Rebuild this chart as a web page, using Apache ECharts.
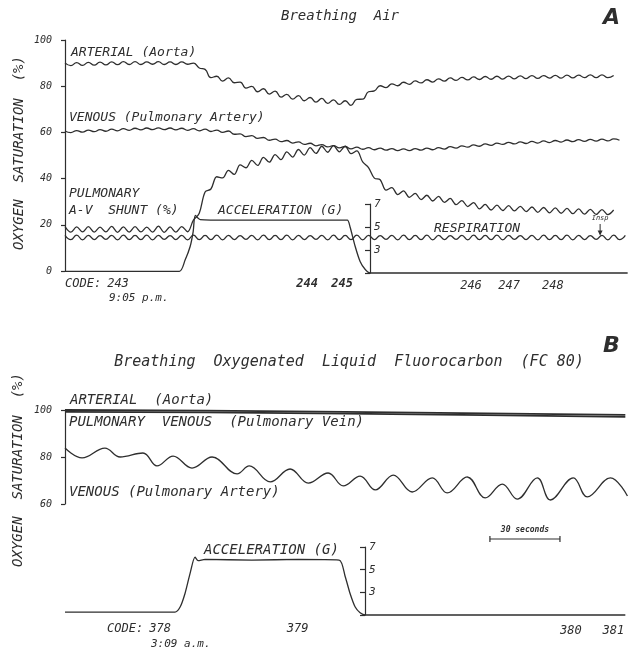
<!DOCTYPE html>
<html>
<head>
<meta charset="utf-8">
<script src="https://cdn.jsdelivr.net/npm/echarts@6/dist/echarts.min.js"></script>
<style>
  html, body { margin: 0; padding: 0; background: #fff; }
  #chart { width: 631px; height: 649px; }
</style>
</head>
<body>
<div id="chart"></div>
<script>
// ---- Panel A: breathing air (time in seconds from start of record) ----
const sampleSec = [
  0, 2.5, 5, 7.5, 10, 12.5, 15, 17.5, 20, 22.5,
  25, 27.5, 30, 32.5, 35, 37.5, 40, 42.5, 45, 47.5,
  50, 52.5, 55, 57.5, 60, 62.5, 65, 67.5, 70, 72.5,
  75, 77.5, 80, 82.5, 85, 87.5, 90, 92.5, 95, 97.5,
  100, 102.5, 105, 107.5, 110, 112.5, 115, 117.5, 120, 122.5,
  125, 127.5, 130, 132.5, 135, 137.5, 140, 142.5, 145, 147.5,
  150, 152.5, 155, 157.5, 160, 162.5, 165, 167.5, 170, 172.5,
  175, 177.5, 180, 182.5, 185, 187.5, 190, 192.5, 195, 197.5,
  200, 202.5, 205, 207.5, 210, 212.5, 215, 217.5, 220, 222.5,
  225, 227.5, 230, 232.5, 235, 237.5, 240
];

// Arterial (aorta) O2 saturation, %
const arterialA = [
  90.1, 88.9, 90.2, 89.0, 90.3, 89.1, 90.4, 89.2, 90.5, 89.3,
  90.6, 89.4, 90.6, 89.4, 90.5, 89.5, 90.6, 89.4, 90.5, 89.4,
  90.5, 89.5, 90.0, 87.9, 87.3, 83.7, 84.3, 82.2, 83.6, 81.5,
  81.8, 79.2, 79.9, 77.6, 78.9, 76.6, 77.9, 75.3, 76.5, 74.4,
  75.9, 73.7, 75.1, 73.1, 74.7, 72.6, 74.1, 72.1, 73.7, 71.7,
  74.3, 74.4, 77.6, 78.0, 80.2, 79.4, 81.0, 80.2, 81.7, 80.8,
  82.3, 81.4, 82.8, 81.8, 83.2, 82.2, 83.6, 82.5, 83.8, 82.7,
  84.0, 82.9, 84.2, 83.0, 84.3, 83.1, 84.4, 83.2, 84.5, 83.3,
  84.6, 83.4, 84.6, 83.5, 84.7, 83.5, 84.8, 83.6, 84.8, 83.7,
  84.9, 83.7, 84.9, 83.7, 84.6, null, null
];

// Venous (pulmonary artery) O2 saturation, %
const venousA = [
  60.6, 59.9, 60.8, 60.1, 61.0, 60.3, 61.2, 60.5, 61.4, 60.7,
  61.6, 60.9, 61.8, 61.1, 61.9, 61.2, 62.0, 61.2, 61.9, 61.1,
  61.8, 60.9, 61.6, 60.7, 61.4, 60.4, 61.0, 60.0, 60.6, 59.2,
  59.4, 58.2, 58.6, 57.4, 57.8, 56.6, 57.1, 56.0, 56.5, 55.4,
  55.9, 54.8, 55.3, 54.2, 54.7, 53.7, 54.3, 53.3, 53.9, 52.9,
  53.6, 52.7, 53.4, 52.5, 53.2, 52.3, 53.0, 52.1, 52.9, 52.1,
  53.0, 52.3, 53.2, 52.5, 53.4, 52.8, 53.8, 53.2, 54.2, 53.6,
  54.6, 54.0, 55.0, 54.4, 55.4, 54.8, 55.7, 55.0, 55.9, 55.2,
  56.1, 55.4, 56.3, 55.6, 56.5, 55.8, 56.7, 56.0, 56.9, 56.1,
  57.0, 56.2, 57.1, 56.3, 57.2, 56.6, null
];

// Pulmonary A-V shunt, %
const shuntA = [
  19.2, 16.8, 19.1, 16.9, 19.2, 16.8, 19.0, 16.9, 19.3, 16.7,
  19.1, 16.8, 19.2, 16.9, 19.0, 16.8, 19.4, 16.7, 19.1, 16.8,
  19.2, 17.0, 22.0, 25.0, 34.2, 35.5, 40.8, 40.3, 43.6, 41.8,
  45.9, 44.7, 47.9, 45.7, 49.2, 47.1, 50.4, 48.2, 51.6, 49.3,
  52.6, 50.2, 53.4, 50.9, 54.0, 51.4, 54.3, 51.6, 54.0, 50.8,
  52.0, 47.2, 44.8, 40.2, 39.5, 35.0, 36.1, 33.1, 34.7, 31.9,
  33.6, 30.9, 32.8, 30.3, 32.3, 29.7, 31.4, 28.7, 30.5, 27.9,
  29.6, 26.9, 28.8, 26.4, 28.5, 26.2, 28.3, 26.0, 28.0, 25.7,
  27.7, 25.4, 27.5, 25.2, 27.3, 25.0, 27.1, 24.8, 26.9, 24.6,
  26.7, 24.5, 26.6, 24.4, 26.4, null, null
];

// Respiration trace (plotted on the saturation scale)
const respirationA = [
  15.4, 13.6, 15.5, 13.5, 15.4, 13.6, 15.3, 13.7, 15.4, 13.5,
  15.5, 13.6, 15.4, 13.6, 15.5, 13.5, 15.4, 13.7, 15.3, 13.6,
  15.4, 13.5, 15.5, 13.6, 15.4, 13.6, 15.5, 13.5, 15.4, 13.6,
  15.3, 13.7, 15.4, 13.5, 15.5, 13.6, 15.4, 13.6, 15.5, 13.5,
  15.4, 13.6, 15.3, 13.7, 15.4, 13.5, 15.5, 13.6, 15.4, 13.6,
  15.5, 13.5, 15.4, 13.6, 15.3, 13.7, 15.4, 13.5, 15.5, 13.6,
  15.4, 13.6, 15.5, 13.5, 15.4, 13.6, 15.3, 13.7, 15.4, 13.5,
  15.5, 13.6, 15.4, 13.6, 15.5, 13.5, 15.4, 13.7, 15.3, 13.6,
  15.4, 13.5, 15.5, 13.6, 15.4, 13.6, 15.5, 13.5, 15.4, 13.6,
  15.3, 13.7, 15.4, 13.5, 15.5, 13.6, 15.4
];

// Acceleration (G), panel A
const accSecA = [0, 49, 51.4, 53.6, 54.9, 55.8, 57.9, 70, 90, 110, 120.9, 122.1, 124.3, 126.4, 128.6, 130.7, 160, 200, 241];
const accGA   = [1.15, 1.15, 2.1, 3.3, 4.6, 6.0, 5.65, 5.6, 5.6, 5.6, 5.6, 5.0, 3.3, 2.0, 1.3, 1.0, 1.0, 1.0, 1.0];

// Event codes, panel A
const codeLabelsA = ['243', '244', '245', '246', '247', '248'];
const codeSecA    = [22.7, 103.7, 118.7, 173.9, 190.2, 209.0];

// ---- Panel B: breathing oxygenated liquid fluorocarbon ----
const lineSecB      = [0, 60, 120, 180, 240];
const arterialB     = [100.0, 99.7, 99.2, 98.6, 97.9];
const pulmVeinB     = [99.2, 99.0, 98.5, 97.8, 97.1];

const venousSecB = [0, 7.3, 17.1, 23.6, 33.4, 39.4, 46.3, 54.4, 63, 73.7, 78.9, 87.9, 96.4, 104.2, 112.7, 119.2,
                    126.4, 132.9, 140.6, 148.7, 157.3, 163.7, 172.3, 180, 187.3, 193.7, 202.3, 207.9, 217.7, 223.7, 233.6, 240.9];
const venousB    = [83.8, 79.6, 83.8, 80.0, 81.7, 76.2, 80.4, 75.3, 80.0, 72.8, 76.2, 69.4, 74.9, 68.9, 73.2, 67.7,
                    71.9, 66.0, 72.3, 65.1, 71.1, 64.7, 71.5, 62.6, 68.5, 62.1, 71.1, 61.7, 71.1, 63.0, 71.1, 63.4];

const accSecB = [0, 47.1, 49.3, 51.4, 53.6, 55.7, 57, 60, 80, 100, 117.4, 120, 122.1, 124.3, 126.4, 128.6, 160, 200, 240];
const accGB   = [1.25, 1.25, 1.7, 2.9, 4.7, 6.1, 5.8, 5.9, 5.85, 5.9, 5.85, 4.4, 2.9, 1.7, 1.2, 1.0, 1.0, 1.0, 1.0];

const codeLabelsB = ['378', '379', '380', '381'];
const codeSecB    = [40.7, 99.6, 216.7, 234.9];

const scaleBarSec = [182, 212]; // 30 s

// ---- styling ----
const INK = '#2e2e2e';
const MONO = '"DejaVu Sans Mono", monospace';
const fontI = (px) => 'italic ' + px + 'px ' + MONO;

const zip = (xs, ys) => xs.map((x, i) => [x, ys[i]]);

const chart = echarts.init(document.getElementById('chart'), null, { renderer: 'canvas' });

const gridBox = (top, height) => ({ left: 58, width: 572, top: top, height: height });
const xAx = (g) => ({ gridIndex: g, type: 'value', min: -3, max: 242, show: false });

const satAxis = (g, min, max) => ({
  gridIndex: g, type: 'value', min: min, max: max, interval: 20,
  axisLine: { show: true, lineStyle: { color: INK, width: 1.2 } },
  axisTick: { show: true, length: 4, lineStyle: { color: INK, width: 1.2 } },
  axisLabel: { color: INK, fontStyle: 'italic', fontFamily: MONO, fontSize: 10, margin: 6 },
  splitLine: { show: false }
});

const accAxis = (g, offset) => ({
  gridIndex: g, type: 'value', min: 1, max: 7, interval: 2,
  position: 'left', offset: offset,
  axisLine: { show: true, lineStyle: { color: INK, width: 1.2 } },
  axisTick: { show: true, length: 5, lineStyle: { color: INK, width: 1.2 } },
  axisLabel: { inside: true, margin: 4, color: INK, fontStyle: 'italic', fontFamily: MONO, fontSize: 11,
               formatter: (v) => (v === 1 ? '' : String(v)) },
  splitLine: { show: false }
});

const trace = (g, data, opts) => Object.assign({
  type: 'line', xAxisIndex: g, yAxisIndex: g, data: data,
  showSymbol: false, symbol: 'none', smooth: 0.5, clip: false, animation: false,
  lineStyle: { color: INK, width: 1.3 }
}, opts || {});

chart.setOption({
  backgroundColor: '#ffffff',
  animation: false,
  grid: [gridBox(40, 231), gridBox(204, 69), gridBox(410, 94), gridBox(547, 68)],
  xAxis: [xAx(0), xAx(1), xAx(2), xAx(3)],
  yAxis: [satAxis(0, 0, 100), accAxis(1, -312), satAxis(2, 60, 100), accAxis(3, -307)],
  series: [
    trace(0, zip(sampleSec, arterialA)),
    trace(0, zip(sampleSec, venousA)),
    trace(0, zip(sampleSec, shuntA), { smooth: 0.35 }),
    trace(0, zip(sampleSec, respirationA)),
    trace(1, zip(accSecA, accGA), { smooth: 0.25 }),
    trace(2, zip(lineSecB, arterialB), { smooth: false, lineStyle: { color: INK, width: 1.8 } }),
    trace(2, zip(lineSecB, pulmVeinB), { smooth: false, lineStyle: { color: INK, width: 1.8 } }),
    trace(2, zip(venousSecB, venousB), { smooth: 0.4 }),
    trace(3, zip(accSecB, accGB), { smooth: 0.25 })
  ]
});

// ---- annotations ----
const px = (axisIdx, t) => chart.convertToPixel({ xAxisIndex: axisIdx }, t);
const txt = (text, x, y, font, align, extra) => Object.assign({
  type: 'text', x: x, y: y, silent: true,
  style: { text: text, font: font, fill: INK, textAlign: align || 'left', textVerticalAlign: 'middle' }
}, extra || {});

const g = [];
// panel titles
g.push(txt('Breathing  Air', 340, 16, fontI(14), 'center'));
g.push(txt('A', 603, 18, 'italic bold 22px "DejaVu Sans"', 'left'));
g.push(txt('Breathing  Oxygenated  Liquid  Fluorocarbon  (FC 80)', 349, 362, fontI(15), 'center'));
g.push(txt('B', 603, 346, 'italic bold 22px "DejaVu Sans"', 'left'));
// vertical axis names
g.push(txt('OXYGEN  SATURATION  (%)', 19, 153, fontI(14), 'center', { rotation: Math.PI / 2 }));
g.push(txt('OXYGEN  SATURATION  (%)', 18, 470, fontI(14), 'center', { rotation: Math.PI / 2 }));
// trace labels, panel A
g.push(txt('ARTERIAL (Aorta)', 71, 53, fontI(13)));
g.push(txt('VENOUS (Pulmonary Artery)', 69, 118, fontI(13)));
g.push(txt('PULMONARY', 69, 194, fontI(13)));
g.push(txt('A-V  SHUNT (%)', 69, 211, fontI(13)));
g.push(txt('ACCELERATION (G)', 218, 211, fontI(13)));
g.push(txt('RESPIRATION', 434, 229, fontI(13)));
// inspiration marker
const inspX = px(0, 229.2);
const inspY = chart.convertToPixel({ gridIndex: 0 }, [229.2, 15.4])[1];
g.push(txt('Insp', inspX, 218, fontI(7), 'center'));
g.push({ type: 'line', silent: true, shape: { x1: inspX, y1: 224, x2: inspX, y2: inspY - 1 },
         style: { stroke: INK, lineWidth: 1 } });
g.push({ type: 'polygon', silent: true,
         shape: { points: [[inspX - 2.5, inspY - 5], [inspX + 2.5, inspY - 5], [inspX, inspY]] },
         style: { fill: INK } });
// event codes, panel A
g.push(txt('CODE:', 65, 284, fontI(12)));
codeLabelsA.forEach((c, i) => {
  const bold = (c === '244' || c === '245');
  g.push(txt(c, px(0, codeSecA[i]), i < 3 ? 284 : 286, (bold ? 'italic bold 12px ' : 'italic 12px ') + MONO, 'center'));
});
g.push(txt('9:05 p.m.', 109, 298, fontI(11)));
// trace labels, panel B
g.push(txt('ARTERIAL  (Aorta)', 70, 400, fontI(14)));
g.push(txt('PULMONARY  VENOUS  (Pulmonary Vein)', 69, 422, fontI(14)));
g.push(txt('VENOUS (Pulmonary Artery)', 69, 492, fontI(14)));
g.push(txt('ACCELERATION (G)', 204, 550, fontI(14)));
// 30-second scale bar
const sb1 = px(2, scaleBarSec[0]), sb2 = px(2, scaleBarSec[1]);
g.push({ type: 'line', silent: true, shape: { x1: sb1, y1: 539, x2: sb2, y2: 539 }, style: { stroke: INK, lineWidth: 1.2 } });
g.push({ type: 'line', silent: true, shape: { x1: sb1, y1: 536, x2: sb1, y2: 542 }, style: { stroke: INK, lineWidth: 1.2 } });
g.push({ type: 'line', silent: true, shape: { x1: sb2, y1: 536, x2: sb2, y2: 542 }, style: { stroke: INK, lineWidth: 1.2 } });
g.push(txt('30 seconds', (sb1 + sb2) / 2, 530, 'italic bold 8px ' + MONO, 'center'));
// event codes, panel B
g.push(txt('CODE:', 107, 629, fontI(12)));
codeLabelsB.forEach((c, i) => {
  g.push(txt(c, px(2, codeSecB[i]), i < 2 ? 629 : 631, fontI(12), 'center'));
});
g.push(txt('3:09 a.m.', 151, 644, fontI(11)));

chart.setOption({ graphic: { elements: g } });
</script>
</body>
</html>
